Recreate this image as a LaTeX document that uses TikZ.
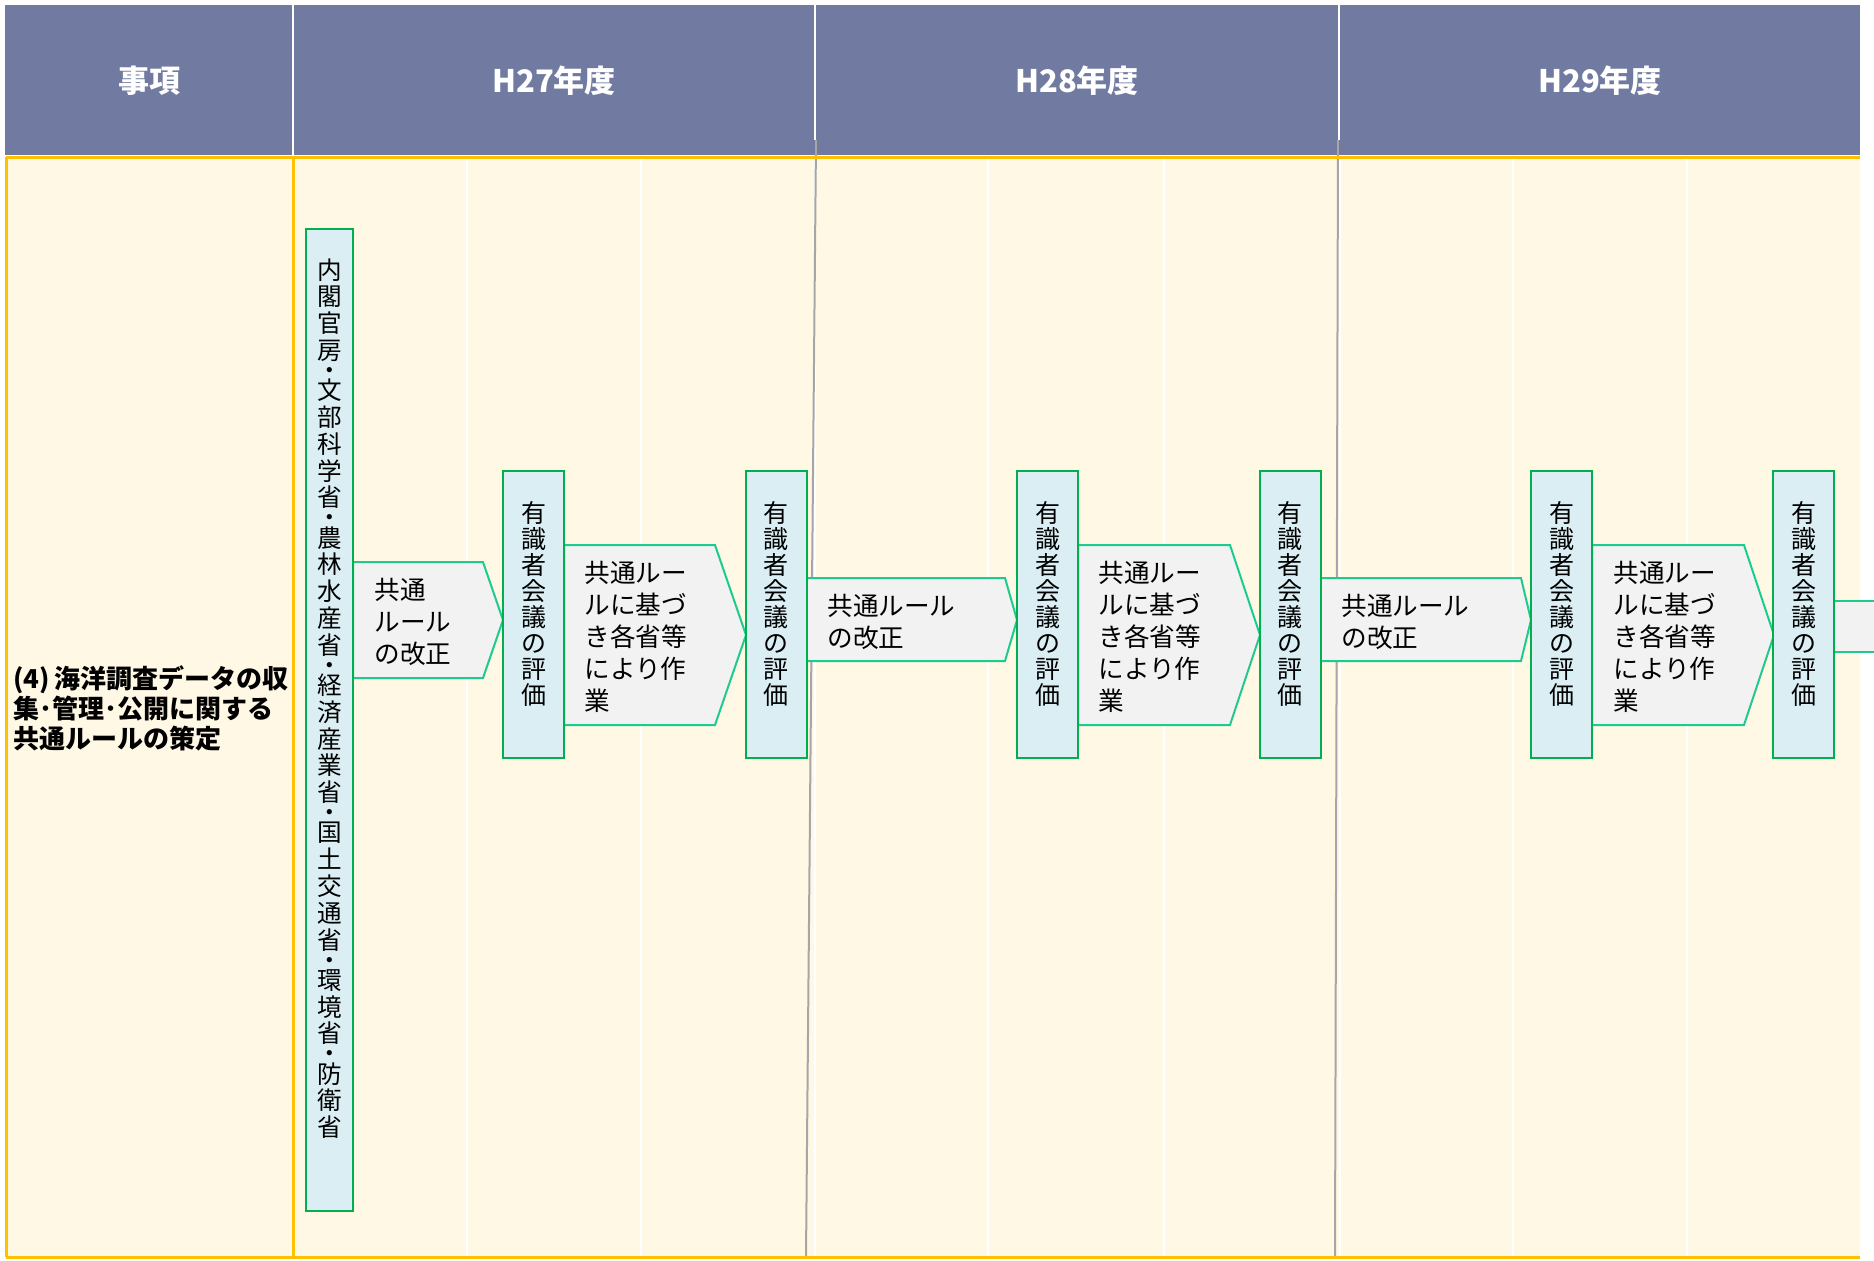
\documentclass[tikz,border=0pt]{standalone}
\usepackage{fontspec}
\setmainfont{Noto Sans CJK JP}
\definecolor{hdrblue}{HTML}{717BA1}
\definecolor{cream}{HTML}{FFF8E5}
\definecolor{orng}{HTML}{FFC000}
\definecolor{boxblue}{HTML}{DAEEF3}
\definecolor{boxgreen}{HTML}{00B050}
\definecolor{arrgray}{HTML}{F2F2F2}
\definecolor{arrgreen}{HTML}{1ECB8E}
\definecolor{sepgray}{HTML}{A6A6A6}
\tikzset{
  hdrtext/.style={text=white,font=\bfseries\fontsize{15.5}{18}\selectfont,inner sep=0pt},
  evalbox/.style={draw=boxgreen,fill=boxblue,line width=1pt,minimum width=30.5pt,minimum height=143.5pt,inner sep=0pt,
    label={[align=center,inner sep=0pt,yshift=5.5pt,font=\fontsize{12.5}{13}\selectfont]center:\evaltxt}},
  minbox/.style={draw=boxgreen,fill=boxblue,line width=1pt,minimum width=23.5pt,minimum height=491pt,inner sep=0pt},
  vtext/.style={align=center,inner sep=0pt,font=\fontsize{12.3}{13.4}\selectfont},
  arrowshape/.style={draw=arrgreen,fill=arrgray,line width=1pt,line join=miter},
  arrtext/.style={align=left,anchor=west,inner sep=0pt,font=\fontsize{12.8}{16}\selectfont},
  whiteline/.style={draw=white,line width=1pt},
  orangeline/.style={draw=orng,line width=1.5pt},
  grayline/.style={draw=sepgray,line width=1pt},
}
\newcommand{\evaltxt}{有\\識\\者\\会\\議\\の\\評\\価}
\begin{document}
\begin{tikzpicture}[x=0.5pt,y=-0.5pt]
\useasboundingbox (0,0) rectangle (1874,1260);
% body background
\fill[cream] (6,157) rectangle (1860,1257);
\foreach \xx in {467,641,815,988,1164,1340,1513,1687}
  \draw[whiteline] (\xx,157) -- (\xx,1257);
\draw[grayline] (816,140) -- (806,1257);
\draw[grayline] (1338,140) -- (1335,1257);
% header
\fill[hdrblue] (5,5) rectangle (1860,155);
\draw[whiteline] (293,5) -- (293,155);
\foreach \xx in {815,1339}
  \draw[whiteline] (\xx,5) -- (\xx,140);
\draw[grayline] (816,140) -- (816,156);
\draw[grayline] (1338,140) -- (1338,156);
\node[hdrtext] (h0) at (149,81) {事項};
\node[hdrtext] (h1) at (554,81) {H27年度};
\node[hdrtext] (h2) at (1077,81) {H28年度};
\node[hdrtext] (h3) at (1600,81) {H29年度};
% orange borders
\draw[orangeline] (6,157) -- (1860,157);
\draw[orangeline] (6,1257) -- (1860,1257);
\draw[orangeline] (6,157) -- (6,1257);
\draw[orangeline] (293,157) -- (293,1257);
% item text
\node[anchor=west,align=left,inner sep=0pt,font=\bfseries\fontsize{13}{15}\selectfont] (item) at (13,708)
  {(4)\,海洋調査データの収\\集･管理･公開に関する\\共通ルールの策定};
% arrows
\draw[arrowshape] (353,562) -- (483,562) -- (503,620) -- (483,678) -- (353,678) -- cycle;
\draw[arrowshape] (564,545) -- (715,545) -- (746,635) -- (715,725) -- (564,725) -- cycle;
\draw[arrowshape] (806,578) -- (1005,578) -- (1017,620) -- (1005,661) -- (806,661) -- cycle;
\draw[arrowshape] (1078,545) -- (1230,545) -- (1260,635) -- (1230,725) -- (1078,725) -- cycle;
\draw[arrowshape] (1320,578) -- (1521,578) -- (1531,620) -- (1521,661) -- (1320,661) -- cycle;
\draw[arrowshape] (1592,545) -- (1744,545) -- (1774,635) -- (1744,725) -- (1592,725) -- cycle;
\fill[arrgray] (1833,601) rectangle (1874,652);
\draw[arrgreen,line width=1pt] (1833,601) -- (1874,601);
\draw[arrgreen,line width=1pt] (1833,652) -- (1874,652);
% boxes
\node[minbox] (m) at (329.5,720) {};
\node[vtext,anchor=north] (mt) at (329.5,258)
  {内\\閣\\官\\房\\[-3.35pt]・\\[-3.35pt]文\\部\\科\\学\\省\\[-3.35pt]・\\[-3.35pt]農\\林\\水\\産\\省\\[-3.35pt]・\\[-3.35pt]経\\済\\産\\業\\省\\[-3.35pt]・\\[-3.35pt]国\\土\\交\\通\\省\\[-3.35pt]・\\[-3.35pt]環\\境\\省\\[-3.35pt]・\\[-3.35pt]防\\衛\\省};
\node[evalbox] (e1) at (533.5,614.5) {};
\node[evalbox] (e2) at (776,614.5) {};
\node[evalbox] (e3) at (1047.5,614.5) {};
\node[evalbox] (e4) at (1290,614.5) {};
\node[evalbox] (e5) at (1561.5,614.5) {};
\node[evalbox] (e6) at (1803.5,614.5) {};
% arrow texts
\node[arrtext] (a1) at (374,622) {共通\\ルール\\の改正};
\node[arrtext] (a2) at (584,637) {共通ルー\\ルに基づ\\き各省等\\により作\\業};
\node[arrtext] (a3) at (827,622) {共通ルール\\の改正};
\node[arrtext] (a4) at (1098,637) {共通ルー\\ルに基づ\\き各省等\\により作\\業};
\node[arrtext] (a5) at (1341,622) {共通ルール\\の改正};
\node[arrtext] (a6) at (1613,637) {共通ルー\\ルに基づ\\き各省等\\により作\\業};
\end{tikzpicture}
\end{document}
